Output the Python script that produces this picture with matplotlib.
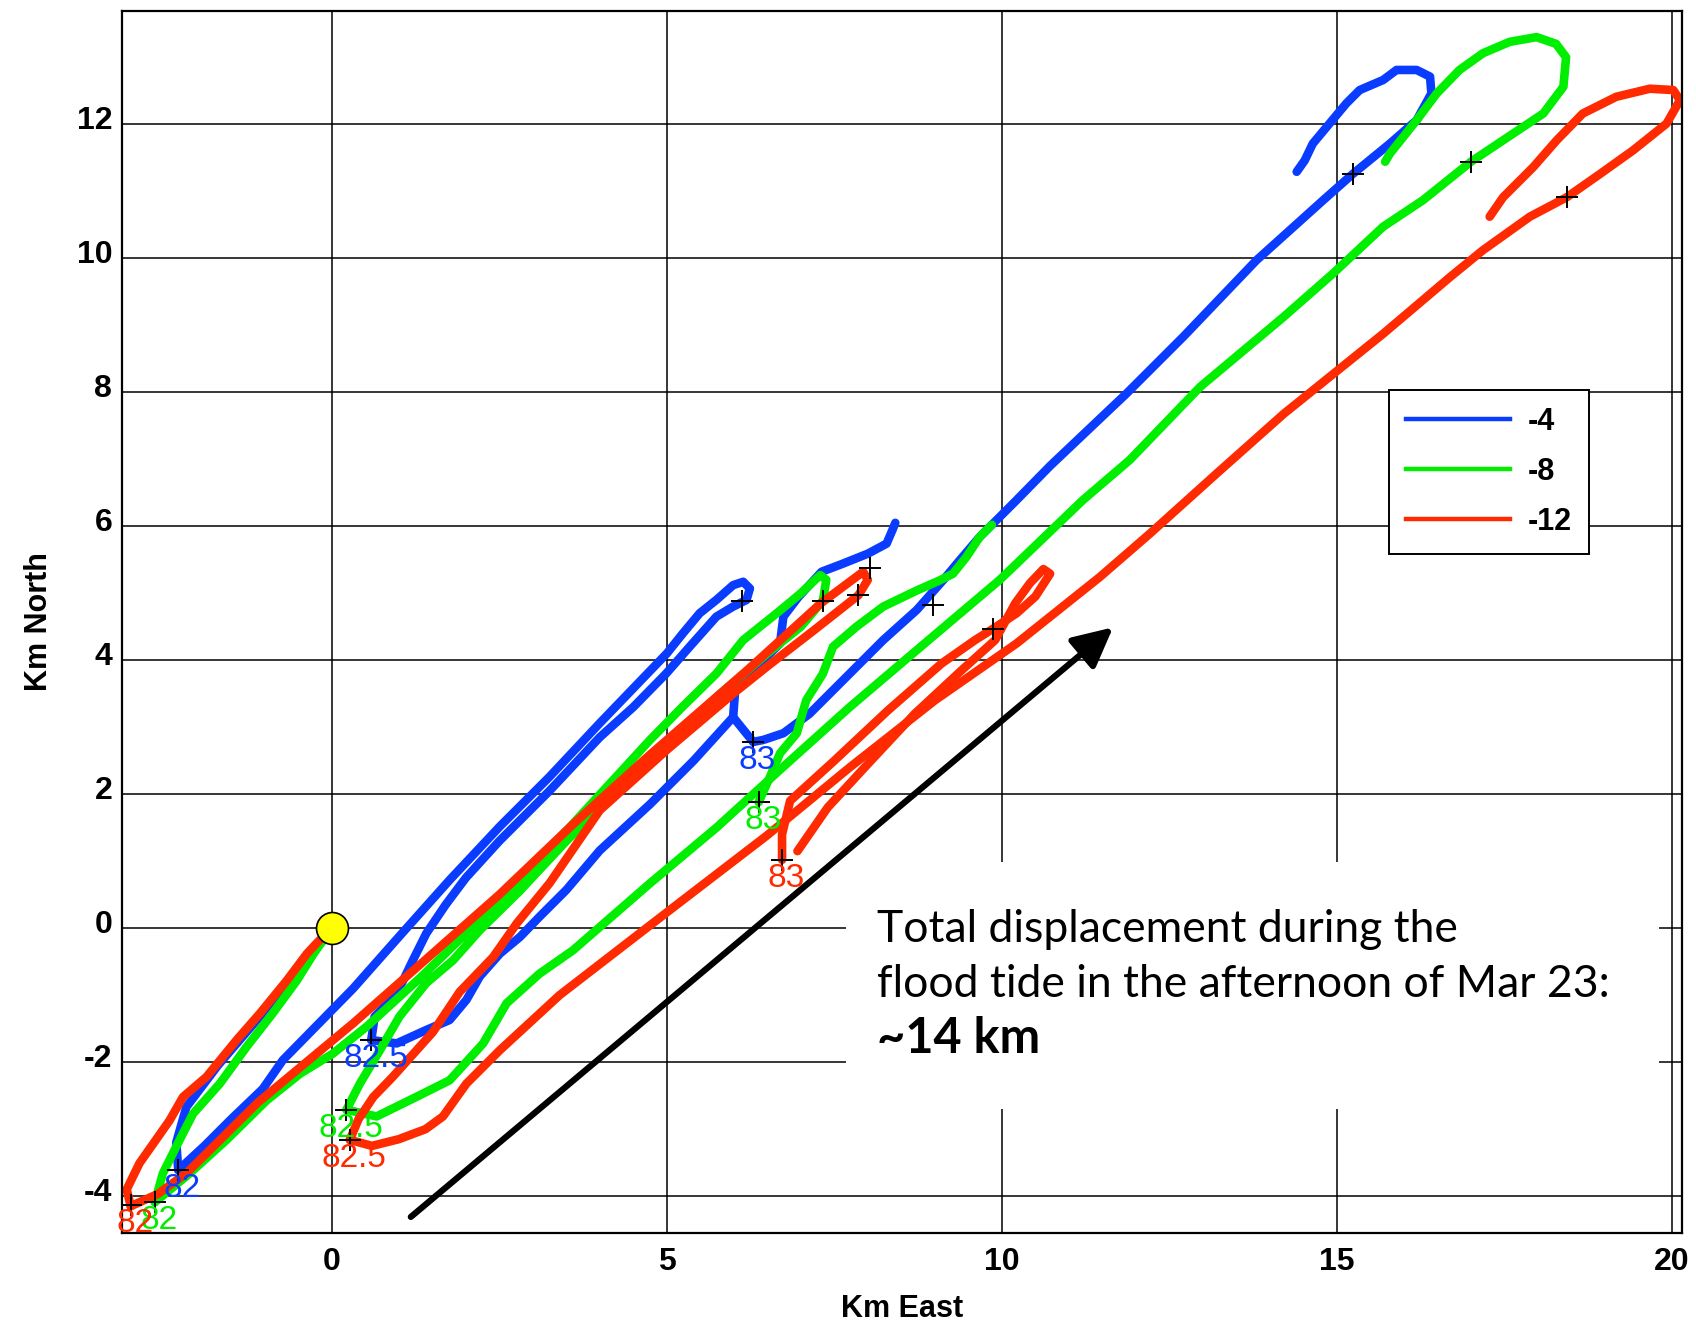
import matplotlib
matplotlib.use("Agg")
import matplotlib.pyplot as plt
from matplotlib.patches import Rectangle
from matplotlib.lines import Line2D
from matplotlib.transforms import ScaledTranslation

plt.rcParams["axes.unicode_minus"] = False

# ---------------------------------------------------------------- styling
BLUE = "#0a3cff"
GREEN = "#00ee00"
RED = "#ff2a00"
DEPTHS = ["-4", "-8", "-12"]
X_TICKS = [0, 5, 10, 15, 20]
Y_TICKS = [-4, -2, 0, 2, 4, 6, 8, 10, 12]
ORIGIN = (0.0, 0.0)

# ---------------------------------------------------------------- -4 m tracks (km east, km north)
blue_to_82 = [(0, 0), (-0.5, -0.6), (-1.1, -1.35), (-1.7, -2.05), (-2.17, -2.67),
              (-2.32, -3.2), (-2.29, -3.61)]
blue_82_to_825 = [(-2.29, -3.61), (-1.9, -3.25), (-1.5, -2.85), (-1.03, -2.4), (-0.73, -1.97),
                  (0.32, -0.9), (1.01, -0.12), (1.76, 0.72), (2.51, 1.52), (3.25, 2.26),
                  (4.0, 3.06), (4.5, 3.58), (5.0, 4.1), (5.24, 4.40), (5.49, 4.70),
                  (5.74, 4.90), (5.99, 5.12), (6.14, 5.17), (6.24, 5.07), (6.19, 4.9),
                  (5.99, 4.8), (5.74, 4.65), (5.34, 4.2), (4.99, 3.8), (4.5, 3.3),
                  (4.0, 2.85), (3.25, 2.05), (2.5, 1.3), (2.0, 0.75), (1.7, 0.35),
                  (1.41, -0.08), (1.2, -0.5), (0.97, -0.98), (0.64, -1.32), (0.59, -1.67)]
blue_825_to_83 = [(0.59, -1.67), (0.97, -1.72), (1.41, -1.52), (1.76, -1.37), (2.01, -1.07),
                  (2.21, -0.72), (2.51, -0.38), (2.81, -0.13), (3.1, 0.17), (3.5, 0.57),
                  (4.0, 1.16), (4.75, 1.85), (5.4, 2.5), (5.99, 3.15), (6.29, 2.78)]
blue_hook = [(5.99, 3.15), (6.02, 3.55), (6.39, 3.95), (6.69, 4.25), (6.74, 4.65),
             (6.97, 4.95), (7.31, 5.32), (7.6, 5.43), (8.0, 5.59), (8.28, 5.74),
             (8.37, 5.95), (8.41, 6.05)]
blue_from_83 = [(6.29, 2.78), (6.44, 2.81), (6.74, 2.91), (7.13, 3.2), (7.53, 3.6),
                (8.23, 4.3), (8.73, 4.75), (9.12, 5.19), (9.37, 5.49), (9.67, 5.84),
                (10.22, 6.39), (10.72, 6.9), (11.86, 7.98), (12.71, 8.83), (13.8, 9.97),
                (14.8, 10.87), (15.24, 11.26), (15.79, 11.71), (16.19, 12.06), (16.41, 12.46),
                (16.39, 12.71), (16.19, 12.81), (15.89, 12.81), (15.69, 12.66), (15.34, 12.51),
                (15.14, 12.31), (14.89, 12.01), (14.64, 11.71), (14.52, 11.46), (14.4, 11.29)]
blue_marks = [(-2.29, -3.61), (6.12, 4.89), (0.59, -1.67), (15.24, 11.26), (6.29, 2.78), (8.03, 5.37)]

# ---------------------------------------------------------------- -8 m tracks
green_to_82 = [(0, 0), (-0.27, -0.38), (-0.52, -0.78), (-0.88, -1.27), (-1.27, -1.77),
               (-1.67, -2.32), (-2.07, -2.77), (-2.27, -3.16), (-2.52, -3.66), (-2.64, -4.09)]
green_82_to_825 = [(-2.64, -4.09), (-2.12, -3.66), (-1.57, -3.16), (-0.97, -2.57), (-0.47, -2.17),
                   (0.02, -1.87), (0.52, -1.47), (1.31, -0.75), (2.26, 0.17), (3.5, 1.45),
                   (4.75, 2.81), (5.24, 3.31), (5.74, 3.8), (6.14, 4.3), (6.64, 4.7),
                   (6.99, 4.99), (7.29, 5.27), (7.38, 5.2), (7.33, 4.89), (7.0, 4.5),
                   (6.5, 4.1), (5.8, 3.5), (5.0, 2.75), (4.2, 2.0), (3.5, 1.3),
                   (2.8, 0.55), (2.21, -0.03), (1.81, -0.48), (1.41, -0.82), (1.01, -1.32),
                   (0.72, -1.82), (0.42, -2.32), (0.22, -2.71)]
green_825_flood = [(0.22, -2.71), (0.67, -2.81), (1.26, -2.52), (1.76, -2.27), (2.26, -1.72),
                   (2.61, -1.12), (3.1, -0.68), (3.6, -0.33), (4.75, 0.67), (5.74, 1.5),
                   (6.74, 2.41), (7.73, 3.3), (8.73, 4.15), (9.97, 5.2), (11.21, 6.39),
                   (11.91, 6.99), (12.96, 8.08), (14.2, 9.12), (14.94, 9.77), (15.69, 10.47),
                   (16.29, 10.87), (17.0, 11.44), (17.48, 11.76), (18.08, 12.16), (18.38, 12.56),
                   (18.42, 13.0), (18.27, 13.2), (17.98, 13.3), (17.58, 13.23), (17.18, 13.06),
                   (16.83, 12.81), (16.49, 12.46), (16.19, 12.06), (15.79, 11.56), (15.72, 11.44)]
green_from_83 = [(6.37, 1.88), (6.54, 2.26), (6.69, 2.61), (6.94, 2.91), (7.08, 3.4),
                 (7.33, 3.8), (7.48, 4.2), (7.83, 4.5), (8.23, 4.8), (8.73, 5.04),
                 (9.07, 5.19), (9.27, 5.29), (9.47, 5.54), (9.67, 5.84), (9.85, 6.02)]
green_marks = [(-2.64, -4.09), (7.33, 4.89), (0.22, -2.71), (17.0, 11.44), (6.37, 1.88), (8.98, 4.82)]

# ---------------------------------------------------------------- -12 m tracks
red_to_82 = [(0, 0), (-0.23, -0.23), (-0.37, -0.38), (-0.67, -0.78), (-1.07, -1.27),
             (-1.42, -1.67), (-1.87, -2.22), (-2.22, -2.52), (-2.42, -2.87), (-2.87, -3.51),
             (-3.06, -3.9), (-3.0, -4.15)]
red_82_to_825 = [(-3.0, -4.15), (-2.6, -3.97), (-2.17, -3.66), (-1.1, -2.6), (0.32, -1.42),
                 (1.31, -0.55), (2.5, 0.5), (3.6, 1.55), (4.75, 2.59), (6.2, 3.85),
                 (7.3, 4.85), (7.93, 5.32), (8.0, 5.2), (7.86, 4.97), (7.2, 4.45),
                 (6.49, 3.9), (5.99, 3.5), (5.0, 2.66), (4.0, 1.76), (3.25, 0.67),
                 (2.76, 0.07), (2.41, -0.43), (1.91, -0.95), (1.51, -1.55), (0.91, -2.22),
                 (0.62, -2.52), (0.4, -2.85), (0.27, -3.16)]
red_825_flood = [(0.27, -3.16), (0.6, -3.25), (1.0, -3.15), (1.4, -3.0), (1.66, -2.81),
                 (2.01, -2.32), (2.51, -1.82), (3.4, -1.0), (4.5, -0.15), (5.24, 0.42),
                 (6.49, 1.38), (7.73, 2.4), (9.0, 3.4), (10.22, 4.25), (11.46, 5.24),
                 (12.21, 5.89), (13.21, 6.79), (14.21, 7.68), (15.7, 8.88), (16.69, 9.72),
                 (17.18, 10.12), (17.88, 10.62), (18.43, 10.91), (18.93, 11.26), (19.42, 11.61),
                 (19.92, 12.01), (20.12, 12.36), (20.02, 12.51), (19.67, 12.53), (19.17, 12.41),
                 (18.67, 12.16), (18.28, 11.76), (17.93, 11.36), (17.48, 10.91), (17.28, 10.62)]
red_from_83 = [(6.72, 1.02), (6.72, 1.4), (6.84, 1.9), (7.5, 2.5), (8.3, 3.25),
               (9.1, 3.95), (9.6, 4.3), (9.87, 4.47), (10.22, 4.7), (10.5, 4.95),
               (10.72, 5.29), (10.62, 5.36), (10.42, 5.15), (10.2, 4.85), (9.9, 4.3),
               (9.4, 3.85), (8.7, 3.2), (8.0, 2.45), (7.4, 1.8), (6.95, 1.15)]
red_marks = [(-2.99, -4.13), (7.86, 4.97), (0.27, -3.16), (18.43, 10.91), (6.72, 1.02), (9.87, 4.47)]

# day-of-year labels go on the 1st, 3rd and 5th time marks
day_labels = {0: "82", 2: "82.5", 4: "83"}

series = [
    (BLUE, DEPTHS[0], [blue_to_82, blue_82_to_825, blue_825_to_83, blue_hook, blue_from_83], blue_marks),
    (GREEN, DEPTHS[1], [green_to_82, green_82_to_825, green_825_flood, green_from_83], green_marks),
    (RED, DEPTHS[2], [red_to_82, red_82_to_825, red_825_flood, red_from_83], red_marks),
]

# ---------------------------------------------------------------- figure
W, H = 1696, 1329
fig = plt.figure(figsize=(W / 100, H / 100), dpi=100)
ax = fig.add_axes([122 / W, 1 - 1233 / H, (1682 - 122) / W, (1233 - 11) / H])
ax.set_xlim(-3.13, 20.15)
ax.set_ylim(-4.55, 13.69)

ax.set_xticks(X_TICKS)
ax.set_yticks(Y_TICKS)
ax.set_axisbelow(True)
ax.grid(True, color="black", linewidth=1.1)
ax.tick_params(length=0, labelsize=23)
ax.tick_params(axis="y", pad=7)
ax.tick_params(axis="x", pad=10)
for lab in ax.get_xticklabels() + ax.get_yticklabels():
    lab.set_fontfamily("Liberation Sans")
    lab.set_fontweight("bold")
for lab in ax.get_yticklabels():
    lab.set_transform(lab.get_transform() + ScaledTranslation(0, 5 / 72, fig.dpi_scale_trans))
for sp in ax.spines.values():
    sp.set_linewidth(1.6)
    sp.set_color("black")

ax.set_xlabel("Km East", fontsize=22, fontweight="bold", family="Liberation Sans", labelpad=12)
ax.set_ylabel("Km North", fontsize=22, fontweight="bold", family="Liberation Sans", labelpad=16)

# blank panel behind the annotation text
ax.add_patch(Rectangle((7.67, -2.70), 19.81 - 7.67, 0.99 + 2.70, facecolor="white",
                       edgecolor="none", zorder=1))

# tracks
for k, (color, depth, segs, marks) in enumerate(series):
    for seg in segs:
        xs = [p[0] for p in seg]
        ys = [p[1] for p in seg]
        ax.plot(xs, ys, color=color, linewidth=6.2, solid_capstyle="round",
                solid_joinstyle="round", zorder=2 + 0.1 * k)

for k, (color, depth, segs, marks) in enumerate(series):
    ax.plot([m[0] for m in marks], [m[1] for m in marks], linestyle="none", marker="+",
            markersize=16, markeredgewidth=1.4, color="black", zorder=3)
    for idx, txt in day_labels.items():
        ax.annotate(txt, xy=marks[idx], xytext=(3, -2), textcoords="offset points",
                    ha="center", va="top", fontsize=24, family="Liberation Sans",
                    color=color, zorder=3.5 + 0.1 * k)

# release point
ax.plot([ORIGIN[0]], [ORIGIN[1]], marker="o", markersize=23, markerfacecolor="#ffff00",
        markeredgecolor="black", markeredgewidth=1.2, zorder=4)

# displacement arrow
ax.annotate("", xy=(11.66, 4.49), xytext=(1.18, -4.31),
            arrowprops=dict(arrowstyle="-|>,head_length=0.6,head_width=0.3", lw=4.5,
                            color="black", mutation_scale=40, shrinkA=0, shrinkB=0),
            zorder=4)

# annotation text
ax.text(8.14, -0.2, "Total displacement during the", fontsize=32, family="Lato",
        va="baseline", ha="left", zorder=5)
ax.text(8.14, -1.03, "flood tide in the afternoon of Mar 23:", fontsize=32, family="Lato",
        va="baseline", ha="left", zorder=5)
ax.text(8.14, -1.87, "~14 km", fontsize=35, family="Lato", fontweight="bold",
        va="baseline", ha="left", zorder=5)

# legend
handles = [Line2D([0], [0], color=c, linewidth=3.2) for c, _, _, _ in series]
leg = ax.legend(handles, DEPTHS, loc="upper left", bbox_to_anchor=(15.78, 8.03),
                bbox_transform=ax.transData, borderaxespad=0, fancybox=False, framealpha=1,
                edgecolor="black", handlelength=3.4, handletextpad=0.6,
                borderpad=0.55, labelspacing=0.65,
                prop=dict(family="Liberation Sans", weight="bold", size=22))
leg.get_frame().set_linewidth(1.4)
leg.set_zorder(6)

fig.savefig("out.png", dpi=100, facecolor="white")
